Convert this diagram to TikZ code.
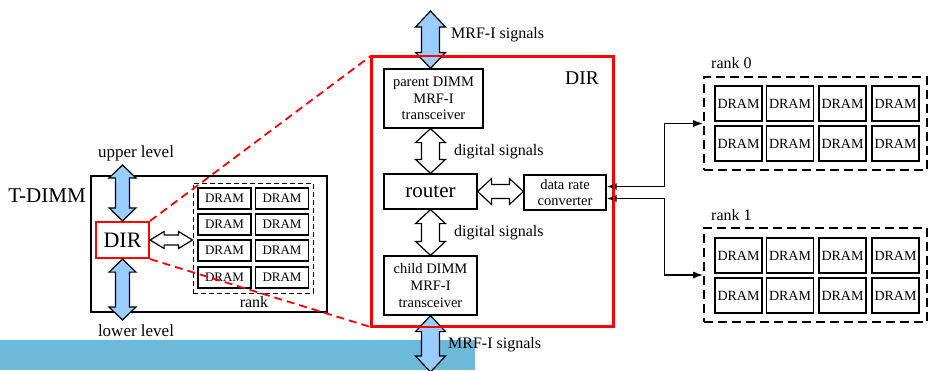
\documentclass[tikz,border=0pt]{standalone}
\usepackage{fontspec}
\setmainfont{Liberation Serif}
\usetikzlibrary{arrows.meta,calc}
\definecolor{skyfill}{RGB}{153,204,255}
\definecolor{bandblue}{RGB}{108,185,217}
\definecolor{dirred}{RGB}{255,0,0}

% vertical fat double arrow: #1 top, #2 bottom, #3 fill, #4 shaft half width, #5 head half width, #6 head length
\newcommand\fatV[6]{%
  \filldraw[fatline, fill=#3] let \p1=#1, \p2=#2 in
    (\x1,\y1) -- (\x1+#5pt,\y1-#6pt) -- (\x1+#4pt,\y1-#6pt) -- (\x1+#4pt,\y2+#6pt)
    -- (\x1+#5pt,\y2+#6pt) -- (\x1,\y2) -- (\x1-#5pt,\y2+#6pt) -- (\x1-#4pt,\y2+#6pt)
    -- (\x1-#4pt,\y1-#6pt) -- (\x1-#5pt,\y1-#6pt) -- cycle;}
% horizontal fat double arrow: #1 left, #2 right, #3 fill, #4 shaft half height, #5 head half height, #6 head length
\newcommand\fatH[6]{%
  \filldraw[fatline, fill=#3] let \p1=#1, \p2=#2 in
    (\x1,\y1) -- (\x1+#6pt,\y1+#5pt) -- (\x1+#6pt,\y1+#4pt) -- (\x2-#6pt,\y1+#4pt)
    -- (\x2-#6pt,\y1+#5pt) -- (\x2,\y1) -- (\x2-#6pt,\y1-#5pt) -- (\x2-#6pt,\y1-#4pt)
    -- (\x1+#6pt,\y1-#4pt) -- (\x1+#6pt,\y1-#5pt) -- cycle;}

\tikzset{
  box/.style={draw, line width=1.2pt, fill=white, inner sep=0pt, align=center},
  small/.style={font=\fontsize{14.5}{16.7}\selectfont},
  dram/.style={draw, line width=1.6pt, fill=white, inner sep=0pt},
  fatline/.style={draw, line width=1.2pt, line join=miter},
  redbox/.style={draw=dirred, line width=2.2pt, inner sep=0pt},
  zoomline/.style={draw=dirred, line width=1.8pt, dash pattern=on 8pt off 5pt},
  rankbox/.style={draw, line width=1.6pt, dash pattern=on 9pt off 5pt, inner sep=0pt},
  link/.style={line width=1.4pt, {Latex[length=10pt,width=7pt]}-{Latex[length=10pt,width=7pt]}},
  lbl/.style={inner sep=0pt, anchor=west, font=\fontsize{16}{18}\selectfont},
}

\begin{document}
\begin{tikzpicture}[x=1pt, y=-1pt]
\useasboundingbox (0,0) rectangle (928,370);

% strip along the bottom edge
\fill[bandblue] (0,340) rectangle (475,370);

% ---------- T-DIMM overview ----------
\node[draw, line width=1.2pt, minimum width=236pt, minimum height=136pt, inner sep=0pt] (tdimm) at (209,244) {};
\node[inner sep=0pt, font=\fontsize{21}{24}\selectfont] (tdimmlbl) at (47,196) {T-DIMM};
\node[inner sep=0pt, font=\fontsize{17}{20}\selectfont] (uplbl) at (136,153) {upper level};
\node[inner sep=0pt, font=\fontsize{17}{20}\selectfont] (lolbl) at (136,331) {lower level};

\node[draw, line width=0.9pt, dash pattern=on 5pt off 3pt, minimum width=120pt, minimum height=110pt, inner sep=0pt] (rank) at (253,238) {};
\foreach \c/\cx in {0/224.5,1/282}
  \foreach \r/\ry in {0/198.5,1/224.5,2/250.5,3/277.5}
    \node[dram, minimum width=53pt, minimum height=21pt, font=\fontsize{13}{15}\selectfont] (sd\c\r) at (\cx,\ry) {DRAM};
\node[inner sep=0pt, font=\fontsize{16}{18}\selectfont] (ranklbl) at (254,302) {rank};

\node[box, draw=dirred, line width=2.2pt, minimum width=53pt, minimum height=36pt, font=\fontsize{22}{24}\selectfont] (dirs) at (122.5,240) {DIR};
\coordinate (upTip) at (122.5,165);
\coordinate (loTip) at (122.5,320);
\fatV{(upTip)}{(dirs.north)}{skyfill}{7}{13.5}{13}
\fatV{(dirs.south)}{(loTip)}{skyfill}{7}{13.5}{13}
\fatH{(dirs.east)}{(rank.west |- dirs.east)}{white}{5}{8.5}{14}

% ---------- DIR detail ----------
\node[redbox, minimum width=241pt, minimum height=269pt] (dirbig) at (492.5,191.5) {};
\node[inner sep=0pt, font=\fontsize{19.5}{22}\selectfont] (dirlbl) at (582,78) {DIR};

\node[box, small, minimum width=99pt, minimum height=59pt] (par) at (433.5,98.5)
  {parent DIMM\\MRF-I\\transceiver};
\node[box, minimum width=93pt, minimum height=35pt, font=\fontsize{21}{24}\selectfont] (rt) at (430.5,191.5)
  {router};
\node[box, small, minimum width=93pt, minimum height=59pt] (ch) at (430.5,285.5)
  {child DIMM\\MRF-I\\transceiver};
\node[box, small, minimum width=82pt, minimum height=35pt] (conv) at (565,192.5)
  {data rate\\converter};

\coordinate (mrfTop) at (430.5,11);
\coordinate (mrfBot) at (430.5,372);
\fatV{(mrfTop)}{(rt.north |- par.north)}{skyfill}{9}{15}{16}
\fatV{(rt.north |- par.south)}{(rt.north)}{white}{9}{15}{14}
\fatV{(rt.south)}{(ch.north)}{white}{9}{15}{14}
\fatV{(ch.south)}{(mrfBot)}{skyfill}{9}{15}{16}
\fatH{(rt.east)}{(conv.west |- rt.east)}{white}{7}{13}{14}

\node[lbl] (mrfl1) at (451,35) {MRF-I signals};
\node[lbl] (dig1) at (454,152) {digital signals};
\node[lbl] (dig2) at (454,233) {digital signals};
\node[lbl] (mrfl2) at (448,345) {MRF-I signals};

% ---------- memory ranks ----------
\node[rankbox, minimum width=223pt, minimum height=93pt] (r0) at (815.5,123.5) {};
\node[rankbox, minimum width=223pt, minimum height=94pt] (r1) at (815.5,275) {};
\node[lbl] (r0lbl) at (711,63) {rank 0};
\node[lbl] (r1lbl) at (711,215) {rank 1};
\foreach \c/\cx in {0/738.5,1/790,2/842.5,3/895.5} {
  \foreach \r/\ry in {0/103.5,1/143.5}
    \node[dram, minimum width=47pt, minimum height=35pt, font=\fontsize{14}{16}\selectfont] (a\c\r) at (\cx,\ry) {DRAM};
  \foreach \r/\ry in {0/255.5,1/295.5}
    \node[dram, minimum width=47pt, minimum height=35pt, font=\fontsize{14}{16}\selectfont] (b\c\r) at (\cx,\ry) {DRAM};
}

\draw[link] ([yshift=6pt]conv.east) -- ++(58,0) |- (r0.west);
\draw[link] ([yshift=-6pt]conv.east) -- ++(58,0) |- (r1.west);

% red frame redrawn over the rank links
\draw[dirred, line width=2.2pt] (dirbig.north west) rectangle (dirbig.south east);

% zoom lines from the small DIR to its detail
\draw[zoomline] (dirs.north east) -- (dirbig.north west);
\draw[zoomline] (dirs.south east) -- (dirbig.south west);
\end{tikzpicture}
\end{document}
